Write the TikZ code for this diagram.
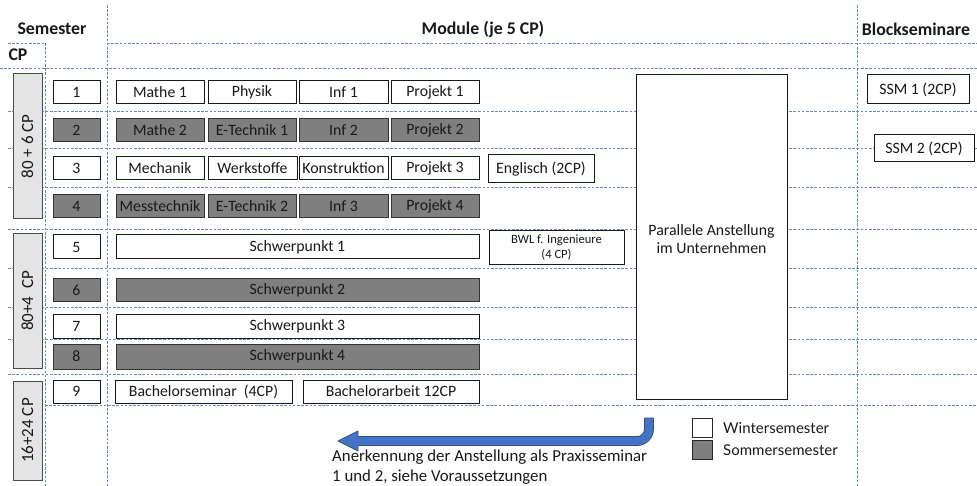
\documentclass[tikz,border=0pt]{standalone}
\usepackage{fontspec}
\setmainfont{Carlito}
\newfontfamily\legendfont{Lato}
\usetikzlibrary{shadows}
\definecolor{gridblue}{RGB}{98,136,208}
\definecolor{ssgray}{RGB}{127,127,127}
\definecolor{cpgray}{RGB}{228,228,228}
\definecolor{arrowblue}{RGB}{68,114,196}
\definecolor{arrowdark}{RGB}{47,82,143}
\newcommand\fs{\fontsize{15.8}{18}\selectfont}
\newcommand\mybox[7]{\node[#1, minimum width={(#5-#3)*1pt}, minimum height={(#6-#4)*1pt}] (#2) at ({(#3+#5)/2},{(#4+#6)/2}) {#7};}
\begin{document}
\begin{tikzpicture}[x=1pt,y=-1pt,
  gridline/.style={draw=gridblue, dash pattern=on 2.6pt off 1.6pt, line width=0.8pt},
  ws/.style={draw=black!90, fill=white, line width=1pt, inner sep=0pt, font=\fs, text=black!90},
  ss/.style={ws, fill=ssgray, draw=black!80, text=black!90},
  cpbox/.style={draw=black!70, fill=cpgray, line width=1pt, inner sep=0pt, font=\fontsize{17}{20}\selectfont, rotate=90, text=black!90},
  head/.style={font=\fontsize{17.8}{20}\selectfont\bfseries, text=black!90},
  legsq/.style={draw=black!85, line width=1pt, minimum width=20pt, minimum height=19pt, inner sep=0pt, drop shadow={shadow xshift=1.2pt, shadow yshift=-1.2pt, opacity=0.35}},
  legtext/.style={font=\legendfont\fontsize{15}{17}\selectfont, anchor=west, text=black!90, inner sep=0pt}
]
\useasboundingbox (0,0) rectangle (977,486);

% grid
\draw[gridline] (45,43) -- (45,486);
\draw[gridline] (107,5) -- (107,486);
\draw[gridline] (857,5) -- (857,486);
\draw[gridline] (8,43) -- (45,43);
\draw[gridline] (107,43) -- (977,43);
\draw[gridline] (0,68) -- (977,68);
\foreach \yy in {111,148,187,229,268,307,339,374} \draw[gridline] (8,\yy) -- (977,\yy);
\draw[gridline] (45,405) -- (977,405);

% headers
\node[head] (hsem) at (52,29) {Semester};
\node[head] (hcp) at (18,55) {CP};
\node[head] (hmod) at (483,29) {Module (je 5 CP)};
\node[head] (hblock) at (916,29) {Blockseminare};

% CP boxes
\node[cpbox, minimum width=145pt, minimum height=29pt] (cp1) at (27.5,146.5) {80 + 6 CP};
\node[cpbox, minimum width=134pt, minimum height=29pt] (cp2) at (27.5,301) {80+4~~CP};
\node[cpbox, minimum width=99pt, minimum height=29pt] (cp3) at (27.5,430.5) {16+24 CP};

% semester numbers
\mybox{ws}{s1}{53}{81}{100}{104}{1}
\mybox{ss}{s2}{53}{119}{100}{142}{2}
\mybox{ws}{s3}{53}{157}{100}{180}{3}
\mybox{ss}{s4}{53}{195}{100}{218}{4}
\mybox{ws}{s5}{53}{235}{100}{259}{5}
\mybox{ss}{s6}{53}{279}{100}{302}{6}
\mybox{ws}{s7}{53}{314}{100}{338}{7}
\mybox{ss}{s8}{53}{344}{100}{369}{8}
\mybox{ws}{s9}{53}{380}{100}{403}{9}

% row 1
\mybox{ws}{m11}{116}{81}{204}{104}{Mathe 1}
\mybox{ws}{m12}{208}{81}{296}{104}{Physik}
\mybox{ws}{m13}{299}{81}{388}{104}{Inf 1}
\mybox{ws}{m14}{391}{81}{479}{104}{Projekt 1}
% row 2
\mybox{ss}{m21}{116}{119}{204}{142}{Mathe 2}
\mybox{ss}{m22}{208}{119}{296}{142}{E-Technik 1}
\mybox{ss}{m23}{299}{119}{388}{142}{Inf 2}
\mybox{ss}{m24}{391}{119}{479}{142}{Projekt 2}
% row 3
\mybox{ws}{m31}{116}{157}{204}{180}{Mechanik}
\mybox{ws}{m32}{208}{157}{297}{180}{Werkstoffe}
\mybox{ws}{m33}{299}{157}{388}{180}{Konstruktion}
\mybox{ws}{m34}{391}{157}{479}{180}{Projekt 3}
\mybox{ws}{engl}{488}{155}{594}{183}{Englisch (2CP)}
% row 4
\mybox{ss}{m41}{116}{195}{204}{218}{Messtechnik}
\mybox{ss}{m42}{208}{195}{296}{218}{E-Technik 2}
\mybox{ss}{m43}{299}{195}{388}{218}{Inf 3}
\mybox{ss}{m44}{391}{195}{479}{218}{Projekt 4}
% rows 5-8
\mybox{ws}{sp1}{116}{235}{479}{259}{Schwerpunkt 1}
\node[ws, font=\fontsize{12.6}{15}\selectfont, align=center, minimum width=135pt, minimum height=34pt] (bwl) at (556.5,248) {BWL f. Ingenieure\\(4 CP)};
\mybox{ss}{sp2}{116}{279}{479}{302}{Schwerpunkt 2}
\mybox{ws}{sp3}{116}{314}{479}{338}{Schwerpunkt 3}
\mybox{ss}{sp4}{116}{344}{479}{369}{Schwerpunkt 4}
% row 9
\mybox{ws}{bsem}{115}{380}{292}{403}{Bachelorseminar~~(4CP)}
\mybox{ws}{barb}{303}{380}{479}{403}{Bachelorarbeit 12CP}

% parallel employment
\node[ws, minimum width=151pt, minimum height=324pt, fill=white] (par) at (711.5,237) {};
\node[font=\fs, align=center, text=black!90] (partext) at (711.5,239) {Parallele Anstellung\\im Unternehmen};

% block seminars
\mybox{ws}{ssm1}{867}{75}{969}{104}{SSM 1 (2CP)}
\mybox{ws}{ssm2}{874}{135}{974}{162}{SSM 2 (2CP)}

% arrow
\coordinate (arrstart) at (649,418);
\filldraw[fill=arrowblue, draw=arrowdark, line width=0.8pt, line join=round]
  (644.5,418) -- (653.5,418) -- (653.5,429)
  .. controls (653.5,438.1) and (646.1,445.5) .. (637,445.5)
  -- (358,445.5) -- (358,451) -- (338,441) -- (358,431) -- (358,436.5)
  -- (637,436.5) .. controls (641.1,436.5) and (644.5,433.1) .. (644.5,429) -- cycle;
\node[font=\fontsize{16.8}{20}\selectfont, anchor=north west, align=left, inner sep=0pt, text=black!90] (caption) at (332,449.5) {Anerkennung der Anstellung als Praxisseminar\\1 und 2, siehe Voraussetzungen};

% legend
\node[legsq, fill=white] (legw) at (702,427.5) {};
\node[legsq, fill=ssgray] (legs) at (702,449.5) {};
\node[legtext] (legwt) at (723,428.5) {Wintersemester};
\node[legtext] (legst) at (723,450) {Sommersemester};
\end{tikzpicture}
\end{document}
